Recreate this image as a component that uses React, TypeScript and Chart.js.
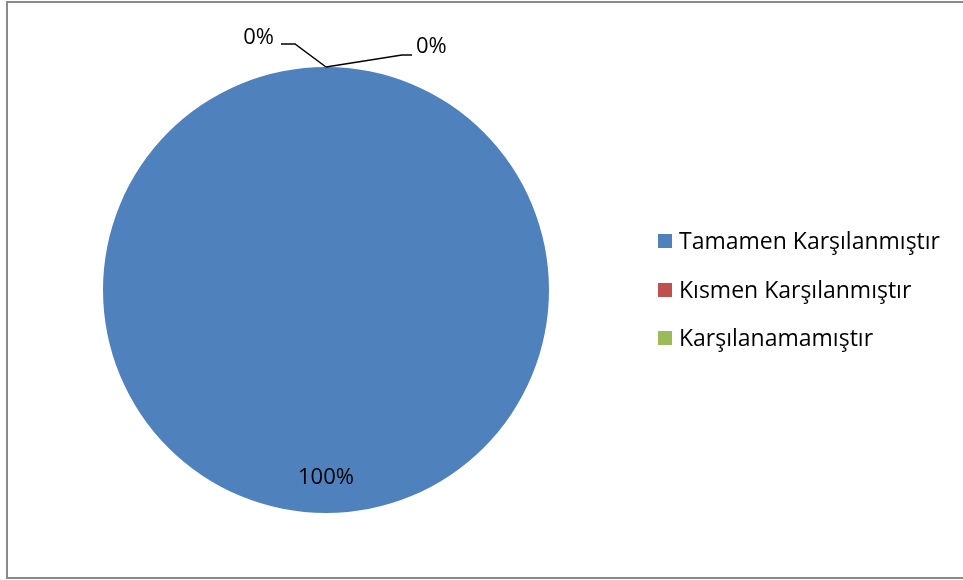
import React, { useEffect, useRef } from "react";
import { Chart, registerables } from "chart.js";

Chart.register(...registerables);

const categories = ["Tamamen Karşılanmıştır", "Kısmen Karşılanmıştır", "Karşılanamamıştır"];
const values = [100, 0, 0];
const colors = ["#4F81BD", "#C0504D", "#9BBB59"];

const FONT = "'Open Sans', 'Noto Sans', sans-serif";

const labelPlugin = {
  id: "excelLabels",
  afterDatasetsDraw(chart: any) {
    const ctx = chart.ctx;
    const meta = chart.getDatasetMeta(0);
    const data = chart.data.datasets[0].data as number[];
    const total = data.reduce((a, b) => a + b, 0);
    ctx.save();
    ctx.fillStyle = "#000";
    ctx.font = `22px ${FONT}`;
    ctx.textBaseline = "middle";
    meta.data.forEach((arc: any, i: number) => {
      const p = arc.getProps(["x", "y", "startAngle", "endAngle", "outerRadius"], true);
      const pct = Math.round((data[i] / total) * 100) + "%";
      if (data[i] > 0) {
        const mid = (p.startAngle + p.endAngle) / 2;
        const r = p.outerRadius * 0.84;
        ctx.textAlign = "center";
        ctx.fillText(pct, p.x + Math.cos(mid) * r, p.y + Math.sin(mid) * r);
      } else {
        const ax = p.x + Math.cos(p.startAngle) * p.outerRadius;
        const ay = p.y + Math.sin(p.startAngle) * p.outerRadius;
        ctx.strokeStyle = "#000";
        ctx.lineWidth = 1.5;
        ctx.beginPath();
        if (i === 1) {
          ctx.moveTo(ax, ay);
          ctx.lineTo(ax - 31, ay - 23);
          ctx.lineTo(ax - 45, ay - 23);
          ctx.stroke();
          ctx.textAlign = "right";
          ctx.fillText(pct, ax - 52, ay - 29);
        } else {
          ctx.moveTo(ax, ay);
          ctx.lineTo(ax + 76, ay - 12);
          ctx.lineTo(ax + 86, ay - 12);
          ctx.stroke();
          ctx.textAlign = "left";
          ctx.fillText(pct, ax + 90, ay - 20);
        }
      }
    });

    // legend
    const lx = 658;
    const ys = [241, 290, 338];
    ctx.textAlign = "left";
    ctx.font = `23px ${FONT}`;
    chart.data.labels.forEach((lab: string, i: number) => {
      ctx.fillStyle = chart.data.datasets[0].backgroundColor[i];
      ctx.fillRect(lx, ys[i] - 7, 14, 14);
      ctx.fillStyle = "#000";
      ctx.fillText(lab, lx + 21, ys[i] + 1);
    });
    ctx.restore();
  },
};

export default function App() {
  const ref = useRef<HTMLCanvasElement>(null);
  useEffect(() => {
    if (!ref.current) return;
    const chart = new Chart(ref.current, {
      type: "pie",
      data: {
        labels: categories,
        datasets: [
          {
            data: values,
            backgroundColor: colors,
            borderWidth: 0,
          },
        ],
      },
      options: {
        animation: false,
        responsive: false,
        events: [],
        layout: { padding: { left: 103, right: 414, top: 67, bottom: 67 } },
        plugins: { legend: { display: false }, tooltip: { enabled: false } },
      },
      plugins: [labelPlugin],
    });
    return () => chart.destroy();
  }, []);
  return (
    <div style={{ position: "absolute", left: 0, top: 0, width: 963, height: 580, background: "#fff", overflow: "hidden" }}>
      <div
        style={{
          position: "absolute",
          left: 6,
          top: 1,
          width: 1000,
          height: 574,
          border: "2px solid #8a8a8a",
        }}
      />
      <canvas ref={ref} width={963} height={580} style={{ position: "absolute", left: 0, top: 0 }} />
    </div>
  );
}
